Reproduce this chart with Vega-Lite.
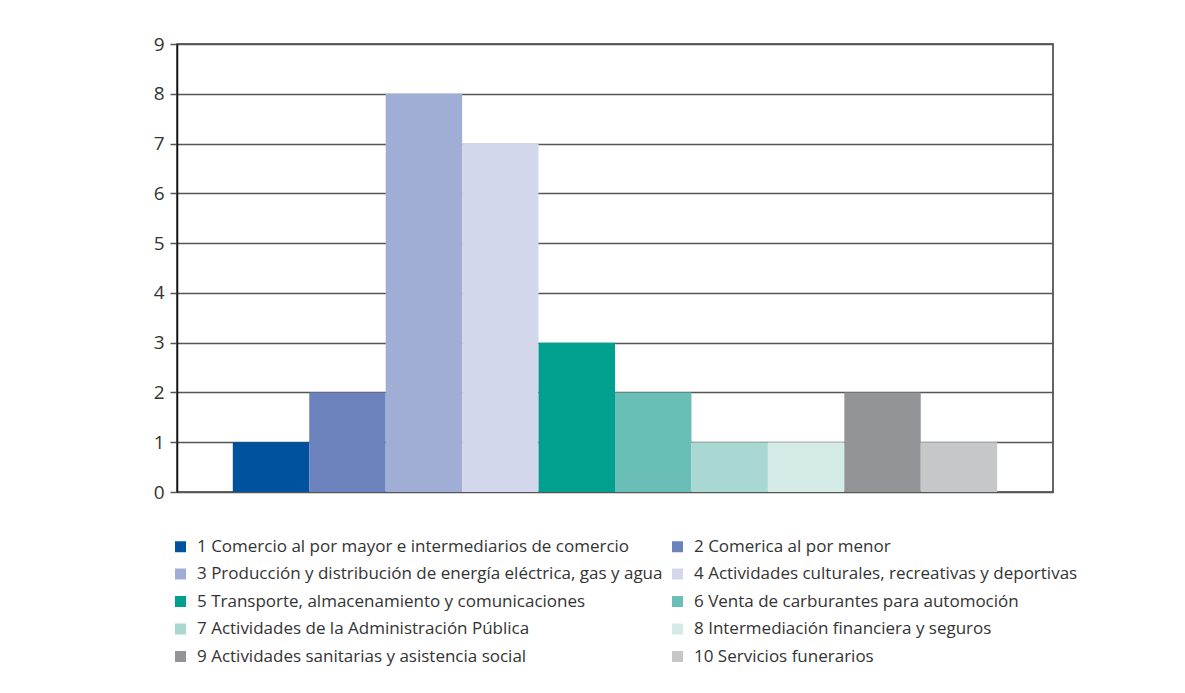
{
  "$schema": "https://vega.github.io/schema/vega-lite/v6.json",
  "autosize": {"type": "none"},
  "width": 876,
  "height": 448,
  "padding": {"left": 177, "top": 44, "right": 132, "bottom": 201},
  "background": "white",
  "config": {
    "font": "Open Sans",
    "view": {"stroke": "#333333", "strokeWidth": 1.5}
  },
  "data": {
    "values": [
      {"cat": "1 Comercio al por mayor e intermediarios de comercio", "v": 1},
      {"cat": "2 Comerica al por menor", "v": 2},
      {"cat": "3 Producción y distribución de energía eléctrica, gas y agua", "v": 8},
      {"cat": "4 Actividades culturales, recreativas y deportivas", "v": 7},
      {"cat": "5 Transporte, almacenamiento y comunicaciones", "v": 3},
      {"cat": "6 Venta de carburantes para automoción", "v": 2},
      {"cat": "7 Actividades de la Administración Pública", "v": 1},
      {"cat": "8 Intermediación financiera y seguros", "v": 1},
      {"cat": "9 Actividades sanitarias y asistencia social", "v": 2},
      {"cat": "10 Servicios funerarios", "v": 1}
    ]
  },
  "mark": {"type": "bar"},
  "encoding": {
    "x": {
      "field": "cat",
      "type": "nominal",
      "sort": null,
      "scale": {"paddingInner": 0, "paddingOuter": 0.73},
      "axis": null
    },
    "y": {
      "field": "v",
      "type": "quantitative",
      "scale": {"domain": [0, 9]},
      "axis": {
        "title": null,
        "values": [0, 1, 2, 3, 4, 5, 6, 7, 8, 9],
        "format": "d",
        "labelFontSize": 19,
        "labelColor": "#333333",
        "labelPadding": 6,
        "tickSize": 7,
        "tickColor": "#555555",
        "tickWidth": 1.5,
        "domainColor": "#111111",
        "domainWidth": 1.5,
        "grid": true,
        "gridColor": "#555555",
        "gridWidth": 1.5
      }
    },
    "color": {
      "field": "cat",
      "type": "nominal",
      "scale": {
        "domain": [
          "1 Comercio al por mayor e intermediarios de comercio",
          "3 Producción y distribución de energía eléctrica, gas y agua",
          "5 Transporte, almacenamiento y comunicaciones",
          "7 Actividades de la Administración Pública",
          "9 Actividades sanitarias y asistencia social",
          "2 Comerica al por menor",
          "4 Actividades culturales, recreativas y deportivas",
          "6 Venta de carburantes para automoción",
          "8 Intermediación financiera y seguros",
          "10 Servicios funerarios"
        ],
        "range": ["#00529f", "#a0aed6", "#00a08f", "#a9d7d1", "#939498", "#6b82bd", "#d2d7eb", "#69bfb5", "#d5ebe8", "#c6c7c9"]
      },
      "legend": {
        "title": null,
        "orient": "none",
        "legendX": -5,
        "legendY": 494,
        "columns": 2,
        "columnPadding": 6,
        "rowPadding": 9.5,
        "symbolType": "square",
        "symbolSize": 121,
        "symbolStrokeWidth": 0,
        "labelFontSize": 17,
        "labelColor": "#333333",
        "labelLimit": 600,
        "labelOffset": 8
      }
    }
  }
}
